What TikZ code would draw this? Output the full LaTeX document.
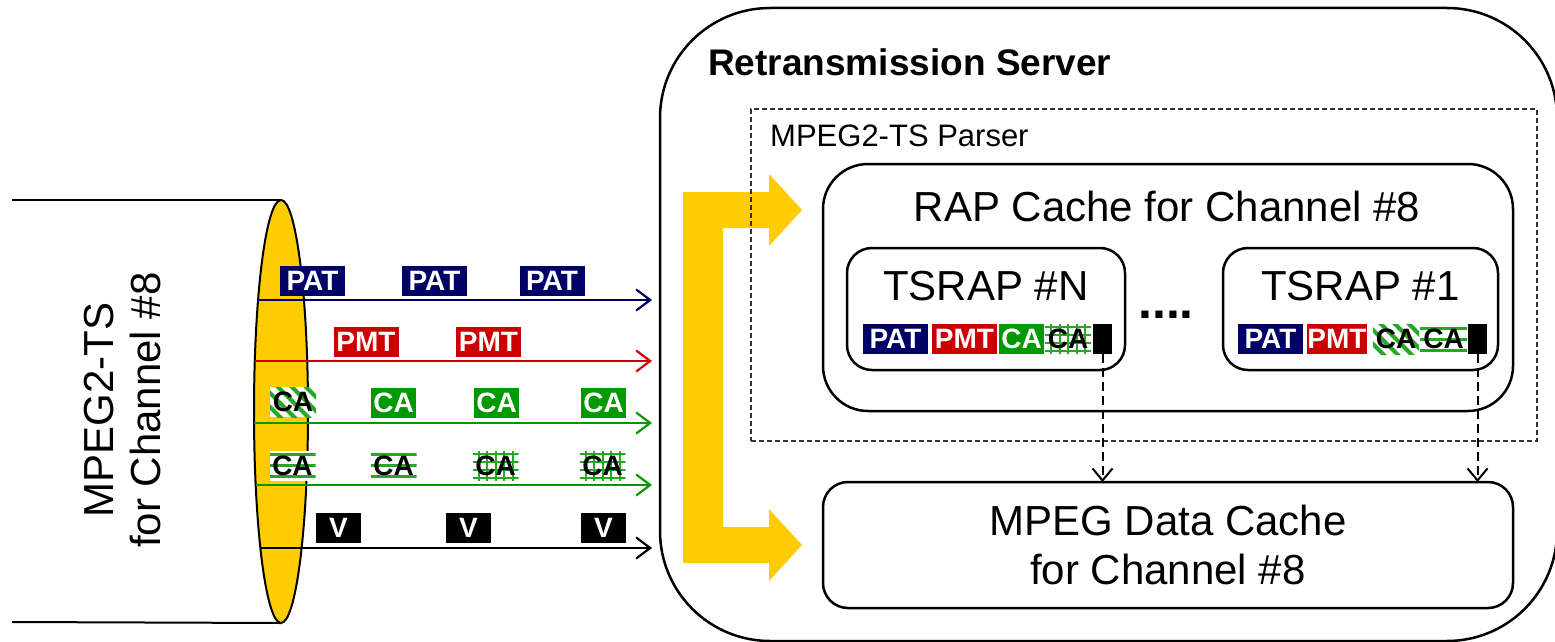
\documentclass[tikz,border=0pt]{standalone}
\usepackage{fontspec}
\setmainfont{Liberation Sans}
\usepackage{tikz}
\usetikzlibrary{positioning,arrows.meta,shapes.geometric}

\definecolor{patblue}{RGB}{0,0,102}
\definecolor{pmtred}{RGB}{204,0,0}
\definecolor{cagreen}{RGB}{0,153,0}
\definecolor{tsyellow}{RGB}{255,204,0}

\tikzset{
  frame/.style={draw, line width=2.5pt, inner sep=0pt, outer sep=0pt},
  roundbox/.style={frame, rounded corners=25pt},
  bigtext/.style={font=\fontsize{42}{47}\selectfont, inner sep=0pt},
  pkt/.style={inner sep=0pt, outer sep=0pt, minimum height=30pt, text=white,
    font=\bfseries\fontsize{28}{28}\selectfont},
  patpkt/.style={pkt, fill=patblue, minimum width=65pt},
  pmtpkt/.style={pkt, fill=pmtred, minimum width=65pt},
  capkt/.style={pkt, fill=cagreen, minimum width=45pt},
  vpkt/.style={pkt, fill=black, minimum width=45pt},
  hatchca/.style={pkt, fill=white, text=black, minimum width=46pt},
  cadiag/.style={hatchca, path picture={
      \foreach \k in {-56,-42,...,56}
        \draw[cagreen!85,line width=4pt] ([xshift=\k*1pt]path picture bounding box.center)
          ++(-24pt,24pt) -- ++(48pt,-48pt);}},
  castripe/.style={hatchca, path picture={
      \foreach \k in {-11,0,11}
        \draw[cagreen!85,line width=3pt] ([yshift=\k*1pt]path picture bounding box.west)
          -- ([yshift=\k*1pt]path picture bounding box.east);}},
  cagrid/.style={hatchca, path picture={
      \foreach \k in {-12,-4,4,12}
        \draw[cagreen!85,line width=2pt] ([yshift=\k*1pt]path picture bounding box.west)
          -- ([yshift=\k*1pt]path picture bounding box.east);
      \foreach \k in {-17,-8.5,0,8.5,17}
        \draw[cagreen!85,line width=2pt] ([xshift=\k*1pt]path picture bounding box.south)
          -- ([xshift=\k*1pt]path picture bounding box.north);}},
  flow/.style={line width=2.2pt, -{Straight Barb[length=14pt,width=21pt]}},
  fetch/.style={line width=2pt, dash pattern=on 9pt off 5pt,
    -{Straight Barb[length=12pt,width=20pt]}},
}

\begin{document}
\begin{tikzpicture}[x=1pt,y=-1pt]
    \useasboundingbox (0,0) rectangle (1555,642);
    \clip (0,0) rectangle (1555,642);

    % transport stream
    \node[ellipse,draw,line width=2pt,fill=tsyellow,inner sep=0pt,outer sep=0pt,
      minimum width=54pt,minimum height=423pt] (cyl) at (281,411.5) {};
    \coordinate (cyltop) at (12,200);
    \coordinate (cylbot) at (12,622);
    \draw[line width=2pt] (cyltop) -- (cyl.north);
    \draw[line width=2pt] (cylbot) -- (cyl.south);
    \node[bigtext,rotate=90,align=center] (cyllabel) at (123,410) {MPEG2-TS\\for Channel \#8};

    \coordinate (patin) at (258,300);   \coordinate (patout) at (652,300);
    \coordinate (pmtin) at (255,361);   \coordinate (pmtout) at (652,361);
    \coordinate (cain) at (254,423);    \coordinate (caout) at (652,423);
    \coordinate (ecmin) at (256,485);   \coordinate (ecmout) at (652,485);
    \coordinate (vin) at (260,548);     \coordinate (vout) at (652,548);
    \draw[flow,patblue] (patin) -- (patout);
    \draw[flow,pmtred] (pmtin) -- (pmtout);
    \draw[flow,cagreen] (cain) -- (caout);
    \draw[flow,cagreen] (ecmin) -- (ecmout);
    \draw[flow,black] (vin) -- (vout);

    \node[patpkt] (pat1) at (312.5,280.5) {PAT};
    \node[patpkt] (pat2) at (434.5,280.5) {PAT};
    \node[patpkt] (pat3) at (552,280.5) {PAT};
    \node[pmtpkt] (pmt1) at (366,341.5) {PMT};
    \node[pmtpkt] (pmt2) at (488.5,341.5) {PMT};
    \node[cadiag] (ca1) at (293,402) {CA};
    \node[capkt] (ca2) at (393.5,403) {CA};
    \node[capkt] (ca3) at (496.5,403) {CA};
    \node[capkt] (ca4) at (603.5,403) {CA};
    \node[castripe] (ecm1) at (292.5,465.5) {CA};
    \node[castripe] (ecm2) at (393.5,465.5) {CA};
    \node[cagrid] (ecm3) at (495.5,465.5) {CA};
    \node[cagrid] (ecm4) at (602.5,465.5) {CA};
    \node[vpkt] (v1) at (338.5,528) {V};
    \node[vpkt] (v2) at (468.5,528) {V};
    \node[vpkt] (v3) at (603.5,528) {V};

    % server
    \node[frame,rounded corners=110pt,minimum width=897pt,minimum height=633pt] (srv) at (1108.5,324.5) {};
    \node[anchor=base west,inner sep=0pt,font=\bfseries\fontsize{37}{37}\selectfont] (srvlabel) at (708,75) {Retransmission Server};

    \fill[tsyellow] (683,192) -- (769,192) -- (769,174) -- (802,210) -- (769,246) -- (769,228)
      -- (723,228) -- (723,527) -- (769,527) -- (769,509) -- (802,545) -- (769,581)
      -- (769,563) -- (683,563) -- cycle;

    \node[draw=black!80,line width=1.3pt,dash pattern=on 5pt off 3pt,inner sep=0pt,
      minimum width=786pt,minimum height=332pt] (parser) at (1144,275) {};
    \node[anchor=base west,inner sep=0pt,font=\fontsize{31}{31}\selectfont] (parserlabel) at (770,146) {MPEG2-TS Parser};

    \node[frame,rounded corners=45pt,minimum width=690pt,minimum height=247pt] (rap) at (1168,287.5) {};
    \node[bigtext,anchor=base] (raplabel) at (1167,221) {RAP Cache for Channel \#8};

    \node[roundbox,minimum width=278pt,minimum height=122pt] (tsrapN) at (986,309) {};
    \node[bigtext,anchor=base] (tsrapNlabel) at (986,300) {TSRAP \#N};
    \node[roundbox,minimum width=275pt,minimum height=122pt] (tsrap1) at (1360.5,309) {};
    \node[bigtext,anchor=base] (tsrap1label) at (1360.5,300) {TSRAP \#1};
    \node[anchor=base,inner sep=0pt,font=\bfseries\fontsize{50}{50}\selectfont] (dots) at (1166,318) {....};

    \node[patpkt] (npat) at (895.5,339) {PAT};
    \node[pmtpkt] (npmt) at (964.5,339) {PMT};
    \node[capkt] (nca) at (1021.5,339) {CA};
    \node[cagrid] (necm) at (1068,339) {CA};
    \node[vpkt,minimum width=19pt] (nblk) at (1102.5,339) {};

    \node[patpkt] (fpat) at (1270.5,339) {PAT};
    \node[pmtpkt,minimum width=60pt] (fpmt) at (1337,339) {PMT};
    \node[cadiag] (fca) at (1396,339) {CA};
    \node[castripe,minimum width=47pt] (fecm) at (1443.5,339) {CA};
    \node[vpkt,minimum width=19pt] (fblk) at (1477.5,339) {};

    \node[roundbox,align=center,font=\fontsize{42}{49}\selectfont,minimum width=690pt,minimum height=126pt] (dcache) at (1168,545) {MPEG Data Cache\\for Channel \#8};

    \draw[fetch] (nblk.south) -- (nblk.south |- dcache.north);
    \draw[fetch] (fblk.south) -- (fblk.south |- dcache.north);
\end{tikzpicture}
\end{document}
